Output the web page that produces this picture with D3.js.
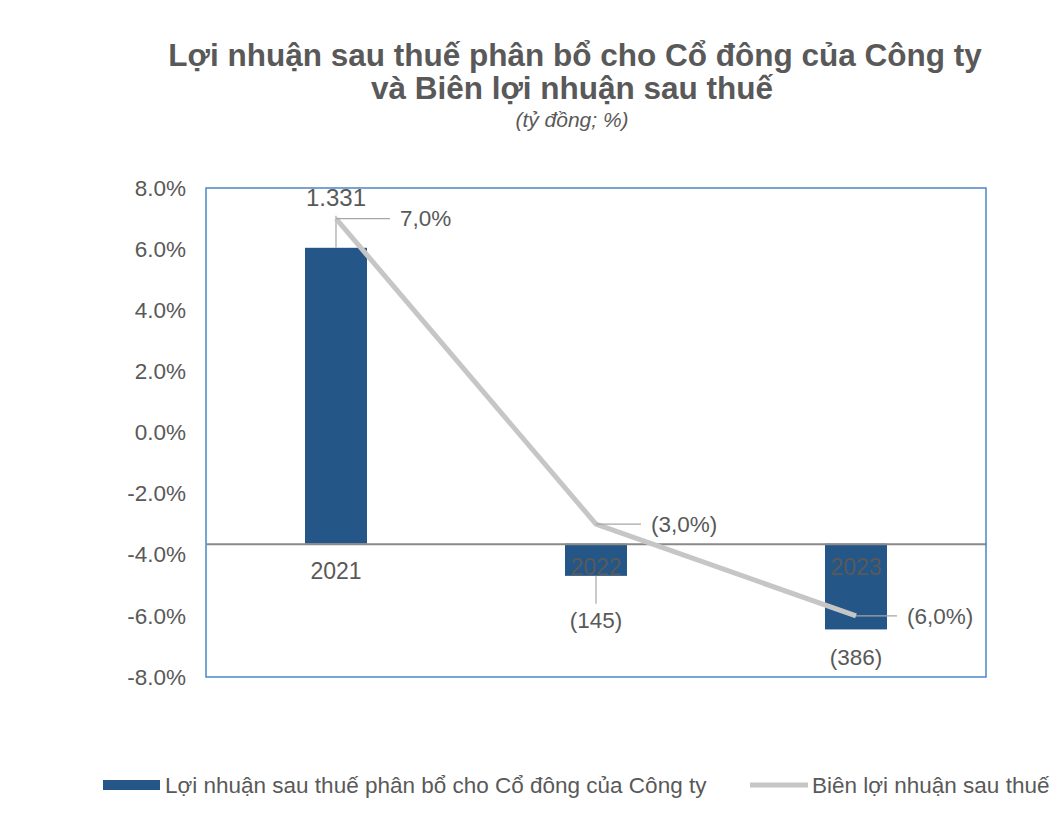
<!DOCTYPE html>
<html>
  <head>
    <meta charset="utf-8">
    <script src="https://d3js.org/d3.v7.min.js"></script>
    <style>
      body { margin: 0; background: #fff; }
      text { font-family: "Liberation Sans", Arial, sans-serif; fill: #595959; }
    </style>
  </head>
  <body>
    <div id="chart"></div>
    <script>
      // Data
      const years = ["2021", "2022", "2023"];
      const profit = [1331, -145, -386];        // tỷ đồng
      const margin = [7.0, -3.0, -6.0];          // %
      const marginTicks = [8, 6, 4, 2, 0, -2, -4, -6, -8];

      const W = 1054, H = 814;
      const plot = { left: 206, right: 986, top: 188, bottom: 677 };
      const fs = "22.5px";

      const svg = d3.select("#chart").append("svg")
        .attr("width", W).attr("height", H);

      // Title
      svg.append("text").attr("x", 575).attr("y", 66)
        .attr("text-anchor", "middle").style("font-size", "31.5px").style("font-weight", "bold")
        .text("Lợi nhuận sau thuế phân bổ cho Cổ đông của Công ty");
      svg.append("text").attr("x", 572).attr("y", 99)
        .attr("text-anchor", "middle").style("font-size", "31.5px").style("font-weight", "bold")
        .text("và Biên lợi nhuận sau thuế");
      svg.append("text").attr("x", 572).attr("y", 127)
        .attr("text-anchor", "middle").style("font-size", "21px").style("font-style", "italic")
        .text("(tỷ đồng;  %)");

      // Scales
      const x = d3.scaleBand().domain(years).range([plot.left, plot.right]);
      const yPct = d3.scaleLinear().domain([-8, 8]).range([plot.bottom, plot.top]);
      const yVal = d3.scaleLinear().domain([-600, 1600]).range([plot.bottom, plot.top]);
      const barW = 62;

      // Left axis (percent)
      const axisL = svg.append("g")
        .attr("transform", `translate(${plot.left},0)`)
        .call(d3.axisLeft(yPct).tickValues(marginTicks).tickSize(0).tickPadding(20)
          .tickFormat(d => d.toFixed(1) + "%"));
      axisL.select(".domain").remove();
      axisL.selectAll("text").style("font-size", fs).attr("fill", "#595959")
        .style("font-family", "Liberation Sans, Arial, sans-serif");

      // Bars
      const rows = years.map((y, i) => ({ year: y, v: profit[i], m: margin[i] }));
      svg.selectAll("rect.bar").data(rows).enter().append("rect")
        .attr("class", "bar")
        .attr("x", d => x(d.year) + x.bandwidth() / 2 - barW / 2)
        .attr("width", barW)
        .attr("y", d => yVal(Math.max(0, d.v)))
        .attr("height", d => Math.abs(yVal(d.v) - yVal(0)))
        .attr("fill", "#245788");

      // Zero line of the bar axis with category labels
      const axisB = svg.append("g")
        .attr("transform", `translate(0,${yVal(0)})`)
        .call(d3.axisBottom(x).tickSize(0).tickPadding(0));
      axisB.select(".domain").attr("stroke", "#8a8a8a").attr("stroke-width", 2);
      axisB.selectAll("text").style("font-size", "23px").attr("fill", "#595959")
        .attr("y", (d, i) => i === 0 ? 27 : 23).attr("dy", "0.35em")
        .style("font-family", "Liberation Sans, Arial, sans-serif");

      // Plot border
      svg.append("rect")
        .attr("x", plot.left).attr("y", plot.top)
        .attr("width", plot.right - plot.left).attr("height", plot.bottom - plot.top)
        .attr("fill", "none").attr("stroke", "#4a88c8").attr("stroke-width", 1.5);

      const cx = d => x(d.year) + x.bandwidth() / 2;
      const fmtVal = v => v < 0 ? `(${Math.abs(v)})` : d3.format(",")(v).replace(",", ".");
      const fmtPct = v => {
        const s = Math.abs(v).toFixed(1).replace(".", ",") + "%";
        return v < 0 ? `(${s})` : s;
      };

      // Bar value labels with leader lines
      const barLab = [
        { dy: -50, lead: -32, size: "24px" },
        { dy: 44, lead: 28, size: fs },
        { dy: 28, lead: 0, size: fs }
      ];
      rows.forEach((d, i) => {
        const edge = yVal(d.v);
        const cfg = barLab[i];
        if (cfg.lead) {
          svg.append("line")
            .attr("x1", cx(d)).attr("x2", cx(d))
            .attr("y1", edge).attr("y2", edge + cfg.lead)
            .attr("stroke", "#a6a6a6").attr("stroke-width", 1.2);
        }
        svg.append("text").attr("x", cx(d)).attr("y", edge + cfg.dy)
          .attr("text-anchor", "middle").attr("dy", "0.35em")
          .style("font-size", cfg.size).text(fmtVal(d.v));
      });

      // Margin line
      const line = d3.line().x(d => cx(d)).y(d => yPct(d.m));
      svg.append("path").datum(rows)
        .attr("d", line).attr("fill", "none")
        .attr("stroke", "#c6c6c6").attr("stroke-width", 5)
        .attr("stroke-linejoin", "round");

      // Margin labels with horizontal leaders
      const pctOff = [64, 55, 51];
      rows.forEach((d, i) => {
        const px = cx(d), py = yPct(d.m);
        svg.append("line")
          .attr("x1", px).attr("x2", px + pctOff[i] - 10).attr("y1", py).attr("y2", py)
          .attr("stroke", "#a6a6a6").attr("stroke-width", 1.2);
        svg.append("text").attr("x", px + pctOff[i]).attr("y", py).attr("dy", "0.35em")
          .style("font-size", fs).text(fmtPct(d.m));
      });

      // Legend
      const lg = svg.append("g").attr("transform", "translate(0,785)");
      lg.append("rect").attr("x", 103).attr("y", -5).attr("width", 57).attr("height", 10)
        .attr("fill", "#245788");
      lg.append("text").attr("x", 165).attr("y", 0).attr("dy", "0.35em")
        .style("font-size", fs).text("Lợi nhuận sau thuế phân bổ cho Cổ đông của Công ty");
      lg.append("line").attr("x1", 750).attr("x2", 808).attr("y1", 0).attr("y2", 0)
        .attr("stroke", "#c6c6c6").attr("stroke-width", 5);
      lg.append("text").attr("x", 812).attr("y", 0).attr("dy", "0.35em")
        .style("font-size", fs).text("Biên lợi nhuận sau thuế");
    </script>
  </body>
</html>
